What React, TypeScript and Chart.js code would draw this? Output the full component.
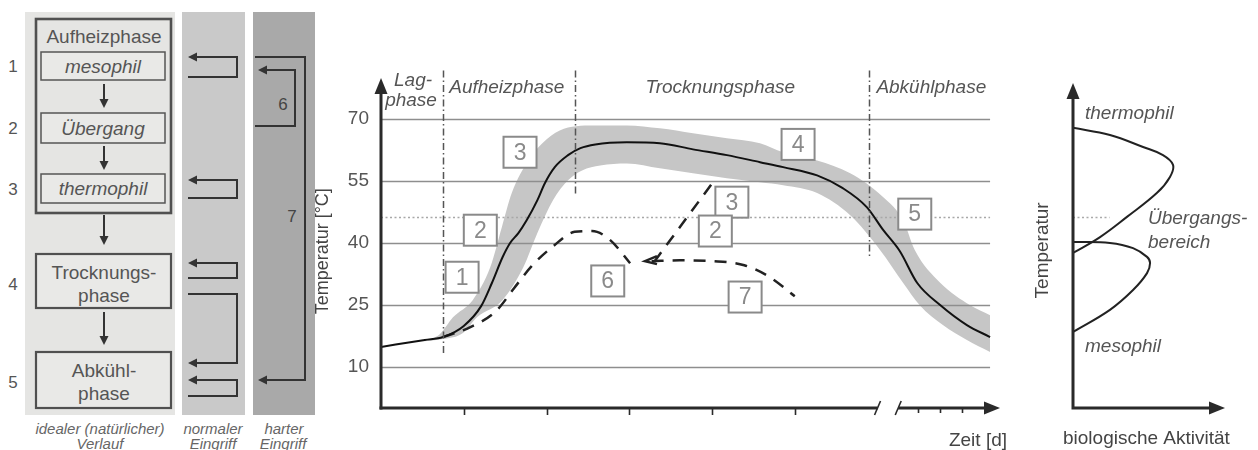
import React, { useEffect, useRef } from 'react';
import { Chart, registerables } from 'chart.js';

Chart.register(...registerables);

const FONT = '"Liberation Sans", Arial, Helvetica, sans-serif';

// ---------- main chart data ----------
const yTicks = [10, 25, 40, 55, 70];
const dottedRef = 46.2;
const gridEnd = 7.36;
const xMajorTicks = [1, 2, 3, 4, 5];
const xMinorTicks = [6.49, 6.755, 7.02];
const xBreaks = [6.0, 6.25];

const mainX = [0, 0.53, 0.75, 1.0, 1.21, 1.34, 1.47, 1.56, 1.66, 1.76, 1.89, 1.98, 2.1, 2.26, 2.41, 2.59, 2.97, 3.37, 3.77, 4.18, 4.58, 4.86, 5.27, 5.58, 5.87, 6.07, 6.27, 6.48, 6.76, 7.08, 7.36];
const mainY = [14.8, 16.5, 17.2, 19.9, 24.7, 30.3, 36.6, 40.0, 42.4, 45.5, 50.4, 54.5, 58.4, 61.3, 63.0, 63.9, 64.4, 64.2, 62.7, 61.3, 59.6, 58.4, 56.4, 53.3, 48.7, 43.1, 38.0, 30.3, 24.9, 20.1, 17.2];

const bandUX = [0.53, 0.71, 0.87, 1.11, 1.32, 1.46, 1.58, 1.78, 1.95, 2.16, 2.56, 2.97, 3.37, 3.77, 4.18, 4.58, 4.86, 5.27, 5.67, 6.07, 6.31, 6.45, 6.76, 7.12, 7.36];
const bandUY = [16.2, 17.9, 22.0, 26.2, 34.1, 43.8, 52.1, 60.0, 64.2, 67.3, 68.5, 68.5, 67.8, 66.6, 65.4, 64.2, 62.0, 60.0, 56.9, 51.1, 45.5, 38.3, 30.3, 24.9, 22.5];
const bandLX = [0.53, 0.75, 0.99, 1.16, 1.47, 1.72, 1.89, 2.08, 2.26, 2.43, 2.65, 2.97, 3.37, 3.77, 4.18, 4.58, 4.86, 5.27, 5.67, 6.03, 6.31, 6.51, 6.79, 7.08, 7.36];
const bandLY = [16.2, 16.7, 18.2, 22.0, 26.2, 34.1, 42.4, 50.4, 55.2, 57.6, 58.8, 59.3, 58.1, 56.9, 55.7, 54.7, 54.0, 52.1, 46.7, 38.3, 30.3, 24.9, 20.1, 16.5, 13.6];

const dash1X = [0.75, 1.08, 1.39, 1.61, 1.82, 2.08, 2.34, 2.55, 2.77, 3.01];
const dash1Y = [17.2, 19.6, 23.5, 29.1, 34.4, 39.2, 42.7, 42.9, 40.7, 35.1];
const dash2X = [3.3, 4.01];
const dash2Y = [35.4, 54.7];
const dash3X = [3.27, 3.61, 4.02, 4.39, 4.7, 5.0];
const dash3Y = [35.6, 35.8, 35.6, 34.6, 31.7, 27.1];
const chevronX = 3.19;
const chevronY = 35.6;

const phaseNames = ['Lag-', 'phase', 'Aufheizphase', 'Trocknungsphase', 'Abkühlphase'];
const phaseNameX = [0.387, 0.363, 1.52, 4.1, 6.65];
const phaseNameY = [79.3, 74.4, 77.6, 77.6, 77.6];
const phaseLineX = [0.75, 2.34, 5.9];
const phaseLineTop = [81.8, 81.8, 81.8];
const phaseLineBottom = [12.8, 52.0, 36.3];

const boxLabels = ['1', '2', '3', '4', '3', '2', '5', '6', '7'];
const boxX = [0.98, 1.2, 1.68, 5.04, 4.24, 4.04, 6.45, 2.74, 4.4];
const boxY = [31.7, 43.1, 62.0, 63.9, 49.9, 42.9, 47.0, 30.8, 26.9];

// ---------- right chart data ----------
const thermoX = [0, 24.3, 46.1, 59.2, 65.8, 63.8, 55.3, 35.5, 17.8, 0];
const thermoY = [86.2, 84.0, 80.3, 77.8, 74.8, 71.1, 66.2, 58.8, 52.6, 47.7];
const mesoX = [0, 24.3, 39.5, 48.7, 50.7, 48.7, 39.5, 24.3, 0];
const mesoY = [51.1, 50.8, 49.2, 46.5, 44.6, 41.5, 36.3, 30.2, 23.4];
const transRefY = 58.8;
const transRefX = [0, 24];

// ---------- left flow chart text ----------
const leftNums = ['1', '2', '3', '4', '5'];
const leftNumY = [66, 128, 189, 284, 382];

const pts = (xs: number[], ys: number[]) => xs.map((x, i) => ({ x, y: ys[i] }));

const TXT = '#555';

const mainPlugin = {
  id: 'mainDeco',
  afterDatasetDraw(chart: any, args: any) {
    if (args.index !== 4) return;
    const { ctx, scales } = chart;
    const x = scales.x, y = scales.y;
    ctx.save();
    ctx.strokeStyle = '#8e8e8e';
    ctx.lineWidth = 1.6;
    for (const v of yTicks) {
      const py = Math.round(y.getPixelForValue(v)) + 0.5;
      ctx.beginPath();
      ctx.moveTo(x.getPixelForValue(0), py);
      ctx.lineTo(x.getPixelForValue(gridEnd), py);
      ctx.stroke();
    }
    ctx.strokeStyle = '#a8a8a8';
    ctx.lineWidth = 1.5;
    ctx.setLineDash([2, 2.5]);
    const pd = Math.round(y.getPixelForValue(dottedRef)) + 0.5;
    ctx.beginPath();
    ctx.moveTo(x.getPixelForValue(0), pd);
    ctx.lineTo(x.getPixelForValue(gridEnd), pd);
    ctx.stroke();
    ctx.restore();
  },
  afterDatasetsDraw(chart: any) {
    const { ctx, scales, chartArea } = chart;
    const x = scales.x, y = scales.y;
    const x0 = x.getPixelForValue(0);
    const y0 = y.getPixelForValue(0);
    ctx.save();
    // chevron arrow head on dashed path
    const cx = x.getPixelForValue(chevronX), cy = y.getPixelForValue(chevronY);
    ctx.strokeStyle = '#222';
    ctx.lineWidth = 2.5;
    ctx.beginPath();
    ctx.moveTo(cx + 12, cy - 5);
    ctx.lineTo(cx, cy);
    ctx.lineTo(cx + 12, cy + 3);
    ctx.stroke();

    // phase lines (dash-dot)
    ctx.strokeStyle = '#555';
    ctx.lineWidth = 1.5;
    ctx.setLineDash([7, 3, 1.5, 3]);
    phaseLineX.forEach((v, i) => {
      const px = Math.round(x.getPixelForValue(v)) + 0.5;
      ctx.beginPath();
      ctx.moveTo(px, y.getPixelForValue(phaseLineTop[i]));
      ctx.lineTo(px, y.getPixelForValue(phaseLineBottom[i]));
      ctx.stroke();
    });
    ctx.setLineDash([]);

    // axes
    ctx.strokeStyle = '#2a2a2a';
    ctx.fillStyle = '#2a2a2a';
    ctx.lineWidth = 3;
    ctx.beginPath();
    ctx.moveTo(x0, y0 + 1.5);
    ctx.lineTo(x0, chartArea.top + 12);
    ctx.stroke();
    ctx.beginPath();
    ctx.moveTo(x0, chartArea.top);
    ctx.lineTo(x0 - 6.5, chartArea.top + 16);
    ctx.lineTo(x0 + 6.5, chartArea.top + 16);
    ctx.closePath();
    ctx.fill();

    ctx.beginPath();
    ctx.moveTo(x0 - 1.5, y0);
    ctx.lineTo(x.getPixelForValue(xBreaks[0]), y0);
    ctx.moveTo(x.getPixelForValue(xBreaks[1]), y0);
    ctx.lineTo(chartArea.right - 12, y0);
    ctx.stroke();
    ctx.beginPath();
    ctx.moveTo(chartArea.right, y0);
    ctx.lineTo(chartArea.right - 16, y0 - 6.5);
    ctx.lineTo(chartArea.right - 16, y0 + 6.5);
    ctx.closePath();
    ctx.fill();

    ctx.lineWidth = 1.6;
    for (const b of xBreaks) {
      const bx = x.getPixelForValue(b);
      ctx.beginPath();
      ctx.moveTo(bx - 3, y0 + 7);
      ctx.lineTo(bx + 3, y0 - 7);
      ctx.stroke();
    }
    for (const t of xMajorTicks) {
      const px = Math.round(x.getPixelForValue(t)) + 0.5;
      ctx.beginPath();
      ctx.moveTo(px, y0);
      ctx.lineTo(px, y0 + 7);
      ctx.stroke();
    }
    for (const t of xMinorTicks) {
      const px = Math.round(x.getPixelForValue(t)) + 0.5;
      ctx.beginPath();
      ctx.moveTo(px, y0);
      ctx.lineTo(px, y0 + 5);
      ctx.stroke();
    }

    // tick labels
    ctx.fillStyle = TXT;
    ctx.font = `19px ${FONT}`;
    ctx.textAlign = 'right';
    ctx.textBaseline = 'middle';
    for (const v of yTicks) {
      ctx.fillText(String(v), x0 - 12, y.getPixelForValue(v));
    }

    // phase labels
    ctx.font = `italic 19px ${FONT}`;
    ctx.textAlign = 'center';
    phaseNames.forEach((n, i) => {
      ctx.fillText(n, x.getPixelForValue(phaseNameX[i]), y.getPixelForValue(phaseNameY[i]));
    });

    // axis titles
    ctx.font = `18px ${FONT}`;
    ctx.fillStyle = '#444';
    ctx.save();
    ctx.translate(x0 - 58, y.getPixelForValue(38));
    ctx.rotate(-Math.PI / 2);
    ctx.textAlign = 'center';
    ctx.fillText('Temperatur [°C]', 0, 0);
    ctx.restore();
    ctx.font = `19px ${FONT}`;
    ctx.textAlign = 'right';
    ctx.fillText('Zeit [d]', chartArea.right + 7, y0 + 33);

    // numbered boxes
    ctx.lineWidth = 2;
    ctx.strokeStyle = '#8a8a8a';
    ctx.font = `23px ${FONT}`;
    ctx.textAlign = 'center';
    boxLabels.forEach((l, i) => {
      const bx = x.getPixelForValue(boxX[i]);
      const by = y.getPixelForValue(boxY[i]);
      ctx.fillStyle = '#fff';
      ctx.fillRect(bx - 16.5, by - 15.5, 33, 31);
      ctx.strokeRect(bx - 16.5, by - 15.5, 33, 31);
      ctx.fillStyle = '#8a8a8a';
      ctx.fillText(l, bx, by + 1);
    });
    ctx.restore();
  },
};

const rightPlugin = {
  id: 'rightDeco',
  beforeDatasetsDraw(chart: any) {
    const { ctx, scales } = chart;
    const x = scales.x, y = scales.y;
    ctx.save();
    ctx.strokeStyle = '#aaa';
    ctx.lineWidth = 1.5;
    ctx.setLineDash([2, 2.5]);
    const py = Math.round(y.getPixelForValue(transRefY)) + 0.5;
    ctx.beginPath();
    ctx.moveTo(x.getPixelForValue(transRefX[0]), py);
    ctx.lineTo(x.getPixelForValue(transRefX[1]), py);
    ctx.stroke();
    ctx.restore();
  },
  afterDatasetsDraw(chart: any) {
    const { ctx, scales, chartArea } = chart;
    const x = scales.x, y = scales.y;
    const x0 = x.getPixelForValue(0), y0 = y.getPixelForValue(0);
    ctx.save();
    ctx.strokeStyle = '#2a2a2a';
    ctx.fillStyle = '#2a2a2a';
    ctx.lineWidth = 3;
    ctx.beginPath();
    ctx.moveTo(x0, y0 + 1.5);
    ctx.lineTo(x0, chartArea.top + 12);
    ctx.moveTo(x0 - 1.5, y0);
    ctx.lineTo(chartArea.right - 12, y0);
    ctx.stroke();
    ctx.beginPath();
    ctx.moveTo(x0, chartArea.top);
    ctx.lineTo(x0 - 6.5, chartArea.top + 16);
    ctx.lineTo(x0 + 6.5, chartArea.top + 16);
    ctx.closePath();
    ctx.fill();
    ctx.beginPath();
    ctx.moveTo(chartArea.right, y0);
    ctx.lineTo(chartArea.right - 16, y0 - 6.5);
    ctx.lineTo(chartArea.right - 16, y0 + 6.5);
    ctx.closePath();
    ctx.fill();

    ctx.fillStyle = TXT;
    ctx.textBaseline = 'middle';
    ctx.textAlign = 'left';
    ctx.font = `italic 19px ${FONT}`;
    ctx.fillText('thermophil', x0 + 12, y.getPixelForValue(90.5));
    ctx.fillText('Übergangs-', x0 + 75, y.getPixelForValue(58.2));
    ctx.fillText('bereich', x0 + 75, y.getPixelForValue(50.8));
    ctx.fillText('mesophil', x0 + 12, y.getPixelForValue(18.8));
    ctx.font = `19px ${FONT}`;
    ctx.fillStyle = '#444';
    ctx.fillText('biologische Aktivität', x0 - 10, y0 + 31);
    ctx.save();
    ctx.translate(x0 - 30, y.getPixelForValue(48.5));
    ctx.rotate(-Math.PI / 2);
    ctx.textAlign = 'center';
    ctx.fillText('Temperatur', 0, 0);
    ctx.restore();
    ctx.restore();
  },
};

function LeftPanel() {
  const dark = '#333';
  const la = (tipX: number, y: number) => (
    <polygon points={`${tipX},${y} ${tipX + 9},${y - 4.5} ${tipX + 9},${y + 4.5}`} fill={dark} />
  );
  const da = (x: number, y1: number, y2: number) => (
    <g>
      <line x1={x} y1={y1} x2={x} y2={y2 - 8} stroke={dark} strokeWidth={2} />
      <polygon points={`${x - 4.5},${y2 - 9} ${x + 4.5},${y2 - 9} ${x},${y2}`} fill={dark} />
    </g>
  );
  const t = (s: string, x: number, y: number, size: number, italic = false, color = TXT) => (
    <text x={x} y={y} fontSize={size} fontFamily={FONT} fontStyle={italic ? 'italic' : 'normal'} fill={color} textAnchor="middle" dominantBaseline="central">{s}</text>
  );
  const boxFill = '#e9e9e7';
  return (
    <svg width={320} height={450} style={{ position: 'absolute', left: 0, top: 0 }}>
      <rect x={25} y={12} width={150} height={403} fill="#e5e5e3" />
      <rect x={182} y={12} width={63} height={403} fill="#c9c9c9" />
      <rect x={253} y={12} width={62} height={403} fill="#a9a9a9" />

      <rect x={36} y={19} width={135} height={194} fill="none" stroke="#505050" strokeWidth={2.6} />
      {t('Aufheizphase', 104, 36, 19)}
      <rect x={41} y={52} width={124} height={28} fill={boxFill} stroke="#555" strokeWidth={1.5} />
      {t('mesophil', 103, 66, 19, true)}
      {da(104, 84, 108)}
      <rect x={41} y={113} width={124} height={30} fill={boxFill} stroke="#555" strokeWidth={1.5} />
      {t('Übergang', 103, 128, 19, true)}
      {da(104, 146, 170)}
      <rect x={41} y={174} width={124} height={29} fill={boxFill} stroke="#555" strokeWidth={1.5} />
      {t('thermophil', 103, 188, 19, true)}
      {da(104, 215, 245)}
      <rect x={36} y={254} width={135} height={54} fill={boxFill} stroke="#505050" strokeWidth={2.2} />
      {t('Trocknungs-', 104, 272, 19)}
      {t('phase', 104, 295, 19)}
      {da(104, 312, 345)}
      <rect x={36} y={352} width={135} height={56} fill={boxFill} stroke="#505050" strokeWidth={2.2} />
      {t('Abkühl-', 104, 370, 19)}
      {t('phase', 104, 393, 19)}

      {leftNums.map((n, i) => (
        <g key={n}>{t(n, 13, leftNumY[i], 17, false, '#555')}</g>
      ))}

      <g fill="none" stroke={dark} strokeWidth={2}>
        <path d="M188,77 H237 V57 H196" />
        <path d="M188,198 H237 V180 H196" />
        <path d="M188,278 H237 V263 H196" />
        <path d="M188,294 H237 V363 H196" />
        <path d="M188,396 H237 V380 H196" />
        <path d="M255,57 H305 V380 H266" />
        <path d="M255,126 H295 V70 H266" />
      </g>
      {la(188, 57)}
      {la(188, 180)}
      {la(188, 263)}
      {la(188, 363)}
      {la(188, 380)}
      {la(258, 380)}
      {la(258, 70)}
      {t('6', 283, 104, 17, false, '#444')}
      {t('7', 292, 216, 17, false, '#444')}

      {t('idealer (natürlicher)', 100, 428, 15, true, '#666')}
      {t('Verlauf', 100, 443, 15, true, '#666')}
      {t('normaler', 213, 428, 15, true, '#666')}
      {t('Eingriff', 213, 443, 15, true, '#666')}
      {t('harter', 284, 428, 15, true, '#666')}
      {t('Eingriff', 283, 443, 15, true, '#666')}
    </svg>
  );
}

export default function App() {
  const mainRef = useRef<HTMLCanvasElement>(null);
  const rightRef = useRef<HTMLCanvasElement>(null);

  useEffect(() => {
    const c1 = new Chart(mainRef.current as HTMLCanvasElement, {
      type: 'line',
      data: {
        datasets: [
          { data: pts(mainX, mainY), borderColor: '#111', borderWidth: 2, cubicInterpolationMode: 'monotone', pointRadius: 0, fill: false, order: 0 },
          { data: pts(dash1X, dash1Y), borderColor: '#222', borderWidth: 2.5, borderDash: [12, 9], cubicInterpolationMode: 'monotone', pointRadius: 0, fill: false, order: 1 },
          { data: pts(dash2X, dash2Y), borderColor: '#222', borderWidth: 2.5, borderDash: [12, 9], tension: 0, pointRadius: 0, fill: false, order: 1 },
          { data: pts(dash3X, dash3Y), borderColor: '#222', borderWidth: 2.5, borderDash: [12, 9], cubicInterpolationMode: 'monotone', pointRadius: 0, fill: false, order: 1 },
          { data: pts(bandUX, bandUY), borderWidth: 0, borderColor: 'rgba(0,0,0,0)', cubicInterpolationMode: 'monotone', pointRadius: 0, fill: false, order: 2 },
          { data: pts(bandLX, bandLY), borderWidth: 0, borderColor: 'rgba(0,0,0,0)', backgroundColor: '#c6c6c6', cubicInterpolationMode: 'monotone', pointRadius: 0, fill: 4, order: 2 },
        ],
      } as any,
      options: {
        responsive: false,
        animation: false,
        layout: { padding: { left: 76, right: 10, top: 18, bottom: 42 } },
        scales: {
          x: { type: 'linear', min: 0, max: 7.48, display: false },
          y: { type: 'linear', min: 0, max: 80, display: false },
        },
        plugins: { legend: { display: false }, tooltip: { enabled: false } },
        elements: { point: { radius: 0 } },
      } as any,
      plugins: [mainPlugin],
    });

    const c2 = new Chart(rightRef.current as HTMLCanvasElement, {
      type: 'scatter',
      data: {
        datasets: [
          { data: pts(thermoX, thermoY), showLine: true, borderColor: '#222', borderWidth: 2, tension: 0.4, pointRadius: 0 },
          { data: pts(mesoX, mesoY), showLine: true, borderColor: '#222', borderWidth: 2, tension: 0.4, pointRadius: 0 },
        ],
      } as any,
      options: {
        responsive: false,
        animation: false,
        layout: { padding: { left: 43, right: 33, top: 23, bottom: 42 } },
        scales: {
          x: { type: 'linear', min: 0, max: 100, display: false },
          y: { type: 'linear', min: 0, max: 100, display: false },
        },
        plugins: { legend: { display: false }, tooltip: { enabled: false } },
      } as any,
      plugins: [rightPlugin],
    });

    return () => {
      c1.destroy();
      c2.destroy();
    };
  }, []);

  return (
    <div style={{ position: 'absolute', left: 0, top: 0, width: 1258, height: 450, background: '#fff', overflow: 'hidden' }}>
      <LeftPanel />
      <canvas ref={mainRef} width={705} height={390} style={{ position: 'absolute', left: 305, top: 60, width: 705, height: 390 }} />
      <canvas ref={rightRef} width={228} height={390} style={{ position: 'absolute', left: 1030, top: 60, width: 228, height: 390 }} />
    </div>
  );
}
